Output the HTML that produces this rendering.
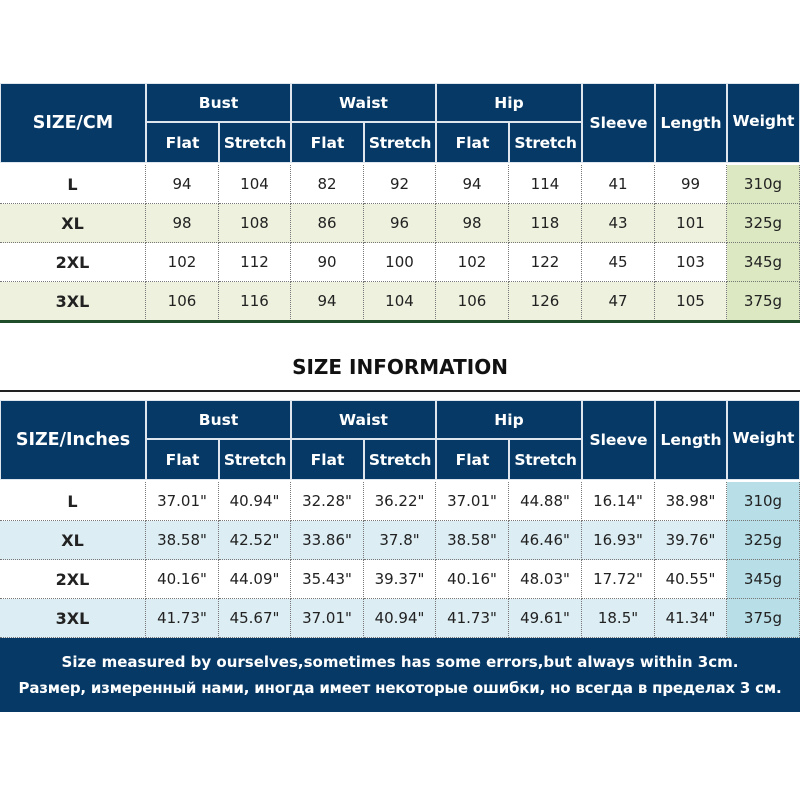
<!DOCTYPE html>
<html><head><meta charset="utf-8"><style>
body{margin:0;width:800px;height:800px;background:#fff;position:relative;overflow:hidden;font-family:"DejaVu Sans","Liberation Sans",sans-serif;}
.c{position:absolute;display:flex;align-items:center;justify-content:center;box-sizing:border-box;text-align:center;white-space:nowrap}
.h{background:#063966;color:#fff;font-weight:bold;font-size:15.5px;border:1px solid #dfe6ee}
.d{font-size:15px;color:#222;border-right:1px dotted #777;border-bottom:1px dotted #777}
.b{font-weight:bold;font-size:16px}
</style></head><body>
<div id="t1"></div>
<div class="c" style="left:0;top:340px;width:800px;height:56px;font-size:20px;font-weight:bold;color:#111;padding-bottom:2px">SIZE INFORMATION</div>
<div style="position:absolute;left:0;top:390px;width:800px;height:2px;background:#222"></div>
<div id="t2"></div>
<div class="c" style="left:0;top:638px;width:800px;height:74px;background:#063966;color:#fff;font-weight:bold;font-size:15px;flex-direction:column;line-height:26px">
<div>Size measured by ourselves,sometimes has some errors,but always within 3cm.</div>
<div style="letter-spacing:-0.2px">Размер, измеренный нами, иногда имеет некоторые ошибки, но всегда в пределах 3 см.</div></div>
<script>
const X=[0,146,219,291,364,436,509,582,655,727,800];
function table(id,top,label,rows,alt,wcol){
 let h='';const y1=top,y2=top+39,y3=top+80;
 const add=(x,y,w,hh,cls,txt,st)=>h+=`<div class="c ${cls}" style="left:${x}px;top:${y}px;width:${w}px;height:${hh}px;${st||''}">${txt}</div>`;
 add(0,y1,146,80,'h',label,'font-size:17.5px');
 ['Bust','Waist','Hip'].forEach((n,i)=>{add(X[1+2*i],y1,X[3+2*i]-X[1+2*i],39,'h',n);add(X[1+2*i],y2,X[2+2*i]-X[1+2*i],41,'h','Flat');add(X[2+2*i],y2,X[3+2*i]-X[2+2*i],41,'h','Stretch','letter-spacing:-0.3px');});
 ['Sleeve','Length','Weight'].forEach((n,i)=>add(X[7+i],y1,X[8+i]-X[7+i],80,'h',n,i==2?'padding-bottom:4px':''));
 rows.forEach((r,j)=>{const y=y3+2+j*39;const bg=j%2?alt:'#fff';
  r.forEach((v,k)=>add(X[k],y,X[k+1]-X[k],39,'d'+(k==0?' b':''),v,'background:'+(k==9?wcol:bg)));});
 document.getElementById(id).outerHTML=h;
}
table('t1',83,'SIZE/CM',[['L',94,104,82,92,94,114,41,99,'310g'],['XL',98,108,86,96,98,118,43,101,'325g'],['2XL',102,112,90,100,102,122,45,103,'345g'],['3XL',106,116,94,104,106,126,47,105,'375g']],'#eef1de','#dce8c2');
table('t2',400,'SIZE/Inches',[['L','37.01"','40.94"','32.28"','36.22"','37.01"','44.88"','16.14"','38.98"','310g'],['XL','38.58"','42.52"','33.86"','37.8"','38.58"','46.46"','16.93"','39.76"','325g'],['2XL','40.16"','44.09"','35.43"','39.37"','40.16"','48.03"','17.72"','40.55"','345g'],['3XL','41.73"','45.67"','37.01"','40.94"','41.73"','49.61"','18.5"','41.34"','375g']],'#dcedf3','#b8dfe8');
</script>
<div style="position:absolute;left:0;top:320px;width:800px;height:3px;background:#1f4d2a"></div>
</body></html>
